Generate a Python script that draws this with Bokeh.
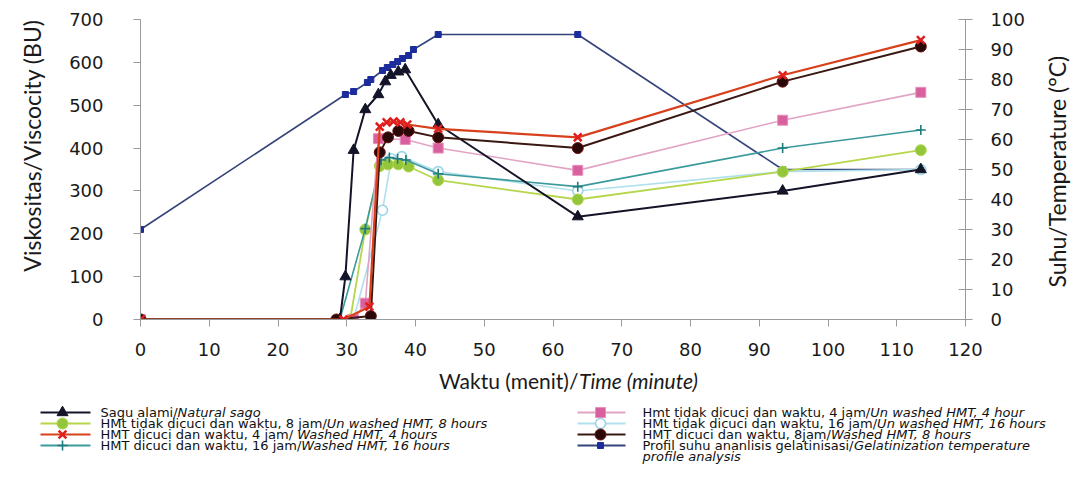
import math
from bokeh.plotting import figure
from bokeh.models import Range1d, LinearAxis, Label, FixedTicker
from bokeh.embed import file_html
from bokeh.resources import INLINE

# ---------------- data ----------------
time_sago = [0, 29.0, 29.8, 31.0, 32.7, 34.6, 35.6, 36.4, 37.5, 38.5, 43.3, 63.6, 93.4, 113.5]
visc_sago = [0, 0, 100, 395, 490, 525, 555, 570, 578, 583, 455, 240, 300, 350]

time_u8 = [0, 30.5, 32.7, 34.8, 36.0, 37.5, 39.0, 43.3, 63.6, 93.4, 113.5]
visc_u8 = [0, 0, 210, 358, 362, 362, 357, 325, 280, 345, 395]

time_w4 = [0, 29.5, 33.3, 34.8, 35.8, 36.8, 37.8, 38.8, 43.3, 63.6, 93.4, 113.5]
visc_w4 = [0, 0, 30, 450, 460, 462, 460, 455, 445, 425, 570, 652]

time_w16 = [0, 29.0, 32.7, 35.0, 36.2, 37.4, 38.6, 43.3, 63.6, 93.4, 113.5]
visc_w16 = [0, 0, 212, 372, 378, 375, 372, 340, 310, 400, 442]

time_u4 = [0, 31.0, 32.7, 34.6, 38.5, 43.3, 63.6, 93.4, 113.5]
visc_u4 = [0, 0, 38, 422, 420, 400, 348, 465, 530]

time_u16 = [0, 31.0, 35.2, 36.5, 38.0, 43.3, 63.6, 93.4, 113.5]
visc_u16 = [0, 0, 255, 375, 380, 345, 300, 345, 350]

time_w8 = [0, 28.5, 33.5, 34.8, 36.0, 37.5, 39.0, 43.3, 63.6, 93.4, 113.5]
visc_w8 = [0, 0, 8, 390, 425, 440, 440, 425, 400, 555, 637]

time_temp = [0, 29.8, 31.0, 33.0, 33.5, 35.2, 35.9, 36.7, 37.4, 38.1, 39.0, 39.7, 43.3, 63.6, 93.4, 113.5]
temp_profile = [30, 75, 76, 79, 80, 83, 84, 85, 86, 87, 88, 90, 95, 95, 50, 50]

x_ticks = list(range(0, 121, 10))
y_ticks = list(range(0, 701, 100))
t_ticks = list(range(0, 101, 10))

x_title = ("Waktu (menit)/", "Time (minute)")
y_title = "Viskositas/Viscocity (BU)"
t_title = "Suhu/Temperature (°C)"

# legend texts: (plain part, italic part, extra italic line)
legend_left = [
    ("Sagu alami/", "Natural sago", None),
    ("HMt tidak dicuci dan waktu, 8 jam/", "Un washed HMT, 8 hours", None),
    ("HMT dicuci dan waktu, 4 jam/ ", "Washed HMT, 4 hours", None),
    ("HMT dicuci dan waktu, 16 jam/", "Washed HMT, 16 hours", None),
]
legend_right = [
    ("Hmt tidak dicuci dan waktu, 4 jam/", "Un washed HMT, 4 hour", None),
    ("HMt tidak dicuci dan waktu, 16 jam/", "Un washed HMT, 16 hours", None),
    ("HMT dicuci dan waktu, 8jam/", "Washed HMT, 8 hours", None),
    ("Profil suhu ananlisis gelatinisasi/", "Gelatinization temperature", "profile analysis"),
]

# ---------------- styles ----------------
ST = {
    "sago": dict(lc="#141428", lw=2.0, marker="triangle", size=11, fill="#141428", mline="#141428", mlw=1),
    "u8": dict(lc="#b6d64c", lw=1.8, marker="circle", size=11, fill="#94c63c", mline="#b0d64a", mlw=1),
    "w4": dict(lc="#d8401c", lw=2.2, marker="x", size=11, fill="#e01e1e", mline="#e01e1e", mlw=2.5),
    "w16": dict(lc="#3d9a9c", lw=1.6, marker="cross", size=10, fill="#1f7c7c", mline="#1f7c7c", mlw=1.6),
    "u4": dict(lc="#e2a4c4", lw=1.6, marker="square", size=10, fill="#d8609e", mline="#e890bc", mlw=1),
    "u16": dict(lc="#b0e0ec", lw=1.6, marker="circle", size=10, fill="#ffffff", mline="#9cd4e6", mlw=1.6),
    "w8": dict(lc="#3a1812", lw=2.0, marker="circle", size=11, fill="#2a0808", mline="#6a1010", mlw=1),
    "temp": dict(lc="#34447a", lw=1.6, marker="square", size=6, fill="#1c2c9c", mline="#1c2c9c", mlw=1),
}

DEJAVU = {'S': .635, 'a': .613, 'g': .635, 'u': .634, ' ': .318, 'l': .278, 'm': .974, 'i': .278,
          '/': .337, 'H': .752, 'M': .863, 't': .392, 'd': .635, 'k': .579, 'c': .550, 'n': .634,
          'w': .818, ',': .318, '0': .636, '1': .636, '4': .636, '6': .636, '8': .636, 'j': .278,
          'T': .611, 'P': .603, 'r': .411, 'o': .612, 'f': .352, 's': .521, 'h': .634, 'e': .615}
LATO = {'V': .679, 'i': .236, 's': .424, 'k': .515, 'o': .572, 't': .357, 'a': .502, '/': .37,
        'W': 1.012, 'u': .57, ' ': .193, '(': .303, 'm': .851, 'e': .529, 'n': .57, ')': .303,
        'S': .516, 'h': .57, 'T': .56}


def tw(s, table, size):
    return sum(table.get(ch, 0.55) for ch in s) * size


# ---------------- main figure ----------------
W = 1089
H_MAIN = 368
H_LEG = 100
FL, FT, FW, FH = 140, 19, 825, 300

p = figure(width=W, height=H_MAIN, x_range=Range1d(0, 120), y_range=Range1d(0, 700),
           output_backend="svg", toolbar_location=None,
           min_border_left=FL, min_border_right=W - FL - FW,
           min_border_top=FT, min_border_bottom=H_MAIN - FT - FH)
p.extra_y_ranges = {"temp": Range1d(0, 100)}
p.outline_line_color = None
p.xgrid.visible = False
p.ygrid.visible = False
p.background_fill_color = "white"
p.border_fill_color = "white"

AX = "#9a9a9a"
TICK_FONT = "DejaVu Sans"
TC = "#1a1a1a"
for ax in (p.xaxis[0], p.yaxis[0]):
    ax.axis_line_color = AX
    ax.major_tick_line_color = AX
    ax.minor_tick_line_color = None
    ax.major_tick_in = 0
    ax.major_tick_out = 7
    ax.major_label_text_font = TICK_FONT
    ax.major_label_text_font_size = "18px"
    ax.major_label_text_color = TC
p.xaxis[0].ticker = FixedTicker(ticks=x_ticks)
p.yaxis[0].ticker = FixedTicker(ticks=y_ticks)
p.xaxis[0].major_label_standoff = 16
p.yaxis[0].major_label_standoff = 30

rax = LinearAxis(y_range_name="temp", ticker=FixedTicker(ticks=t_ticks))
rax.axis_line_color = AX
rax.major_tick_line_color = AX
rax.minor_tick_line_color = None
rax.major_tick_in = 7
rax.major_tick_out = 7
rax.major_label_standoff = 18
rax.major_label_text_font = TICK_FONT
rax.major_label_text_font_size = "18px"
rax.major_label_text_color = TC
p.add_layout(rax, "right")


def title_axis(range_name, anchor_value, text, size, standoff):
    kw = {"y_range_name": range_name} if range_name else {}
    ax = LinearAxis(ticker=FixedTicker(ticks=[anchor_value]),
                    major_label_overrides={anchor_value: text}, **kw)
    ax.axis_line_color = None
    ax.major_tick_line_color = None
    ax.minor_tick_line_color = None
    ax.major_tick_in = 0
    ax.major_tick_out = 0
    ax.major_label_standoff = standoff
    ax.major_label_orientation = math.pi / 2
    ax.major_label_text_font = "Lato"
    ax.major_label_text_font_size = f"{size}px"
    ax.major_label_text_color = TC
    return ax


# rotated axis titles, drawn as single tick labels so that they read bottom-to-top
p.add_layout(title_axis(None, 700, y_title, 23, 35), "left")
p.add_layout(title_axis("temp", 10.7, t_title, 23, 30), "right")

series = [
    ("temp", time_temp, temp_profile, "temp"),
    ("u16", time_u16, visc_u16, None),
    ("u8", time_u8, visc_u8, None),
    ("w16", time_w16, visc_w16, None),
    ("u4", time_u4, visc_u4, None),
    ("sago", time_sago, visc_sago, None),
    ("w8", time_w8, visc_w8, None),
    ("w4", time_w4, visc_w4, None),
]
for key, xs, ys, rng in series:
    s = ST[key]
    kw = {"y_range_name": rng} if rng else {}
    p.line(xs, ys, line_color=s["lc"], line_width=s["lw"], **kw)
    p.scatter(xs, ys, marker=s["marker"], size=s["size"], fill_color=s["fill"],
              line_color=s["mline"], line_width=s["mlw"], **kw)

# ---------------- lower figure: x title + legend ----------------
q = figure(width=W, height=H_LEG, x_range=Range1d(0, W), y_range=Range1d(H_LEG, 0),
           output_backend="svg", toolbar_location=None, x_axis_location=None,
           y_axis_location=None, min_border_left=0, min_border_right=0,
           min_border_top=0, min_border_bottom=0)
q.outline_line_color = None
q.xgrid.visible = False
q.ygrid.visible = False
q.background_fill_color = "white"
q.border_fill_color = "white"

XT_SIZE = 21
xt_plain_w = tw(x_title[0], LATO, XT_SIZE)
xt_total = xt_plain_w + tw(x_title[1], LATO, XT_SIZE) * 0.97
xt_x0 = FL + FW / 2 + 18 - xt_total / 2
xt_y = 380 - H_MAIN
xcommon = dict(text_font="Lato", text_font_size=f"{XT_SIZE}px", text_color=TC,
               text_baseline="middle", text_align="left")
q.add_layout(Label(x=xt_x0, y=xt_y, text=x_title[0].rstrip(), text_font_style="normal", **xcommon))
q.add_layout(Label(x=xt_x0 + xt_plain_w, y=xt_y, text=x_title[1], text_font_style="italic", **xcommon))

LEG_FONT = "DejaVu Sans"
LEG_SIZE = 13
rows = [y - H_MAIN for y in (412, 423, 434, 445, 456)]


def legend_entry(key, x0, x1, xm, xt, y, plain, ital, extra):
    s = ST[key]
    q.line([x0, x1], [y, y], line_color=s["lc"], line_width=max(s["lw"], 2))
    q.scatter([xm], [y], marker=s["marker"], size=s["size"], fill_color=s["fill"],
              line_color=s["mline"], line_width=s["mlw"])
    common = dict(text_font=LEG_FONT, text_font_size=f"{LEG_SIZE}px", text_color="#111111",
                  text_baseline="middle", text_align="left")
    q.add_layout(Label(x=xt, y=y, text=plain.rstrip(), text_font_style="normal", **common))
    q.add_layout(Label(x=xt + tw(plain, DEJAVU, LEG_SIZE), y=y, text=ital,
                       text_font_style="italic", **common))
    if extra:
        q.add_layout(Label(x=xt, y=y + (rows[1] - rows[0]), text=extra,
                           text_font_style="italic", **common))


left_keys = ["sago", "u8", "w4", "w16"]
right_keys = ["u4", "u16", "w8", "temp"]
for i, (k, (pl, it, ex)) in enumerate(zip(left_keys, legend_left)):
    legend_entry(k, 40, 90, 62, 100, rows[i], pl, it, ex)
for i, (k, (pl, it, ex)) in enumerate(zip(right_keys, legend_right)):
    legend_entry(k, 577, 625, 600, 642, rows[i], pl, it, ex)

open("out.html", "w").write(file_html([p, q], INLINE))
